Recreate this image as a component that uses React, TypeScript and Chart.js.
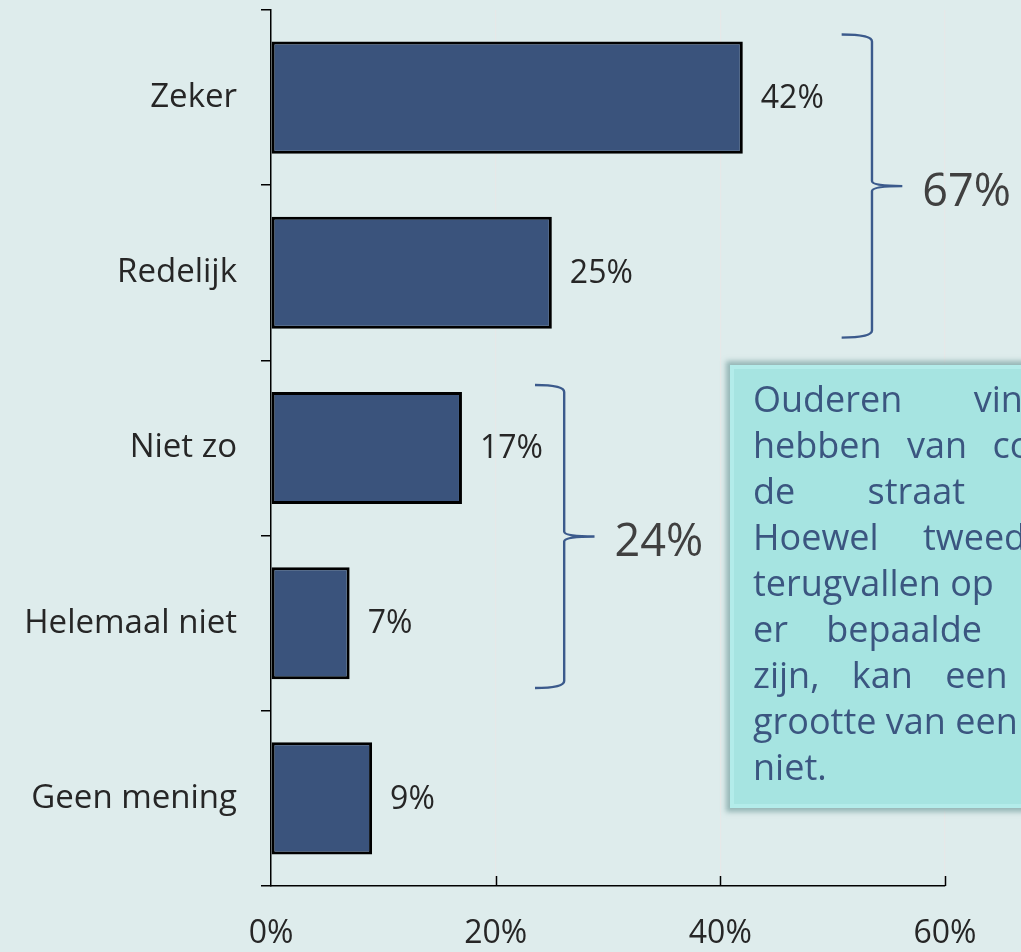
import React, { useEffect, useRef } from "react";
import { Chart, registerables } from "chart.js";

Chart.register(...registerables);

// ---- data ----
const categories = ["Zeker", "Redelijk", "Niet zo", "Helemaal niet", "Geen mening"];
const values = [42, 25, 17, 7, 9];
const xTickValues = [0, 20, 40, 60];
const groupLabels = ["67%", "24%"];
const groupFirst = [0, 2];
const groupLast = [1, 3];

const boxLines = [
  "Ouderen vinden het",
  "hebben van contact",
  "de straat",
  "Hoewel tweederde",
  "terugvallen op",
  "er bepaalde",
  "zijn, kan een",
  "grootte van een",
  "niet.",
];
const boxWordSpacing = [62, 16, 63, 35, 0, 29, 23, 0, 0];

const FONT = "'Open Sans', 'DejaVu Sans', sans-serif";
const BG = "#deecec";
const BAR = "#3a537c";
const TEXT = "#262626";
const BRACE = "#3b5a8c";

const bracePlugin = {
  id: "annotations",
  afterDatasetsDraw(chart: any) {
    const ctx = chart.ctx;
    const xs = chart.scales.x;
    const ys = chart.scales.y;
    const meta = chart.getDatasetMeta(0);
    // value labels
    ctx.save();
    ctx.font = `32px ${FONT}`;
    ctx.fillStyle = TEXT;
    ctx.textAlign = "left";
    ctx.textBaseline = "middle";
    meta.data.forEach((el: any, i: number) => {
      ctx.fillText(values[i] + "%", el.x + 18, el.y + 1);
    });
    ctx.restore();

    // inward x ticks
    ctx.save();
    ctx.strokeStyle = "#000";
    ctx.lineWidth = 1.5;
    const bottom = chart.chartArea.bottom;
    xTickValues.forEach((v) => {
      if (v === 0) return;
      const px = Math.round(xs.getPixelForValue(v)) + 0.5;
      ctx.beginPath();
      ctx.moveTo(px, bottom);
      ctx.lineTo(px, bottom - 10);
      ctx.stroke();
    });
    ctx.restore();

    // braces
    const band = ys.getPixelForValue(1) - ys.getPixelForValue(0);
    const braceX = [
      [50.8, 53.5, 56.2],
      [23.5, 26.1, 28.8],
    ];
    groupLabels.forEach((lab, g) => {
      const y0 = ys.getPixelForValue(groupFirst[g]) - band * 0.36;
      const y1 = ys.getPixelForValue(groupLast[g]) + band * 0.37;
      const ym = (y0 + y1) / 2;
      const xl = xs.getPixelForValue(braceX[g][0]);
      const xv = xs.getPixelForValue(braceX[g][1]);
      const xt = xs.getPixelForValue(braceX[g][2]);
      ctx.save();
      ctx.strokeStyle = BRACE;
      ctx.lineWidth = 2.4;
      ctx.lineJoin = "round";
      ctx.beginPath();
      ctx.moveTo(xl, y0);
      ctx.quadraticCurveTo(xv, y0, xv, y0 + 7);
      ctx.lineTo(xv, ym - 5);
      ctx.quadraticCurveTo(xv, ym, xt, ym);
      ctx.moveTo(xt, ym);
      ctx.quadraticCurveTo(xv, ym, xv, ym + 5);
      ctx.lineTo(xv, y1 - 7);
      ctx.quadraticCurveTo(xv, y1, xl, y1);
      ctx.stroke();
      ctx.fillStyle = "#404040";
      ctx.font = `45px ${FONT}`;
      ctx.textAlign = "left";
      ctx.textBaseline = "alphabetic";
      ctx.fillText(lab, xt + 20, ym + 20);
      ctx.restore();
    });
  },
};

export default function App() {
  const ref = useRef<HTMLCanvasElement | null>(null);

  useEffect(() => {
    document.body.style.margin = "0";
    document.body.style.overflow = "hidden";
    const canvas = ref.current;
    if (!canvas) return;
    const chart = new Chart(canvas, {
      type: "bar",
      data: {
        labels: categories,
        datasets: [
          {
            data: values,
            backgroundColor: BAR,
            borderColor: "#000",
            borderWidth: 3,
            borderSkipped: false,
            categoryPercentage: 1,
            barPercentage: 0.64,
          },
        ],
      },
      options: {
        indexAxis: "y",
        responsive: false,
        animation: false,
        devicePixelRatio: 1,
        layout: { padding: { top: 10, right: 76, left: 0, bottom: 0 } },
        plugins: {
          legend: { display: false },
          tooltip: { enabled: false },
          title: { display: false },
        },
        scales: {
          x: {
            type: "linear",
            min: 0,
            max: 60,
            afterBuildTicks: (s: any) => {
              s.ticks = xTickValues.map((v) => ({ value: v }));
            },
            ticks: {
              callback: (v: any) => v + "%",
              font: { family: FONT, size: 32 },
              color: TEXT,
              padding: 29,
              maxRotation: 0,
            },
            grid: {
              color: (c: any) => (c.tick && c.tick.value === 0 ? "rgba(0,0,0,0)" : "#e6e8e8"),
              lineWidth: 1.2,
              drawTicks: false,
            },
            border: { display: true, color: "#000", width: 1.5 },
            afterFit: (s: any) => {
              s.height = 66;
              s.paddingLeft = 0;
              s.paddingRight = 0;
            },
          },
          y: {
            type: "category",
            ticks: {
              font: { family: FONT, size: 33 },
              color: TEXT,
              padding: 24,
            },
            grid: {
              offset: true,
              drawOnChartArea: false,
              drawTicks: true,
              tickLength: 10,
              color: "#000",
              lineWidth: 1.5,
            },
            border: { display: true, color: "#000", width: 1.5 },
            afterFit: (s: any) => {
              s.width = 271;
              s.paddingTop = 0;
              s.paddingBottom = 0;
            },
          },
        },
      },
      plugins: [bracePlugin],
    } as any);
    return () => chart.destroy();
  }, []);

  return (
    <div
      style={{
        position: "fixed",
        left: 0,
        top: 0,
        width: 1021,
        height: 952,
        overflow: "hidden",
        background: BG,
      }}
    >
      <canvas ref={ref} width={1021} height={952} style={{ display: "block" }} />
      <div
        style={{
          position: "absolute",
          left: 730,
          top: 365,
          width: 360,
          height: 443,
          boxSizing: "border-box",
          background: "#a6e4e1",
          border: "4px solid #b3ecea",
          boxShadow: "0 0 5px 4px rgba(125,165,165,0.75)",
          padding: "7px 0 0 19px",
          color: "#3b5680",
          fontFamily: FONT,
          fontSize: 36,
          lineHeight: "46px",
          overflow: "hidden",
        }}
      >
        {boxLines.map((t, i) => (
          <div key={i} style={{ whiteSpace: "nowrap", wordSpacing: boxWordSpacing[i] }}>
            {t}
          </div>
        ))}
      </div>
    </div>
  );
}
